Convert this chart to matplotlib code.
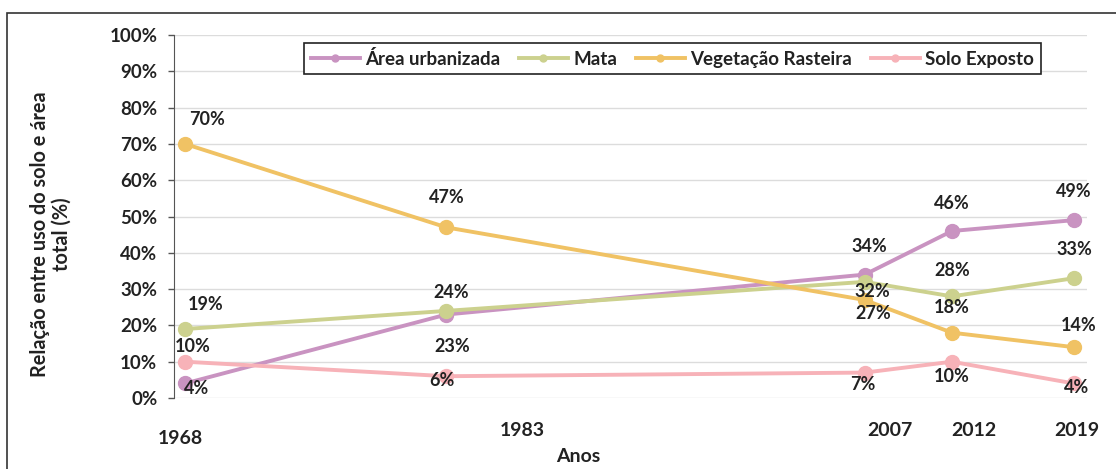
import matplotlib
matplotlib.use("Agg")
import matplotlib.pyplot as plt
from matplotlib.patches import Rectangle

plt.rcParams['font.family'] = ['Lato', 'DejaVu Sans']
plt.rcParams['font.weight'] = 'bold'

anos = [1968, 1983, 2007, 2012, 2019]
area_urbanizada = [4, 23, 34, 46, 49]
mata = [19, 24, 32, 28, 33]
vegetacao_rasteira = [70, 47, 27, 18, 14]
solo_exposto = [10, 6, 7, 10, 4]
yticks = [0, 10, 20, 30, 40, 50, 60, 70, 80, 90, 100]

# deslocamento dos rótulos (pixels) em relação a cada ponto
off_urb = [(12, -5), (6, -32), (5, 28), (0, 28), (0, 29)]
off_mata = [(21, 25), (5, 18), (8, -10), (0, 26), (0, 29)]
off_veg = [(22, 24), (0, 30), (8, -14), (0, 25), (5, 22)]
off_solo = [(8, 15), (-4, -4), (-2, -12), (0, -15), (3, -4)]
off_anos = [(-5, -40), (76, -33), (25, -33), (22, -33), (3, -33)]

series = [
    ('Área urbanizada', area_urbanizada, '#C993C1', off_urb),
    ('Mata', mata, '#CCD18E', off_mata),
    ('Vegetação Rasteira', vegetacao_rasteira, '#F0C264', off_veg),
    ('Solo Exposto', solo_exposto, '#F7B2B8', off_solo),
]

txt = '#222222'
fs = 13

fig = plt.figure(figsize=(11.16, 4.69), dpi=100)
ax = fig.add_axes([174/1116, 1-398/469, 913/1116, 363/469])

# moldura externa
fig.patches.append(Rectangle((7/1116, -0.1), 1.2, 1.1-13/469, transform=fig.transFigure,
                             fill=False, edgecolor='#333333', lw=1.2))

for nome, vals, cor, offs in series:
    ax.plot(anos, vals, color=cor, lw=2.8, marker='o', ms=10, label=nome, zorder=3)
    for x, v, (dx, dy) in zip(anos, vals, offs):
        ax.annotate(f'{v}%', (x, v), xytext=(dx, dy), textcoords='offset pixels',
                    ha='center', va='center', fontsize=fs, color=txt, fontweight='bold', zorder=5)

ax.set_xlim(1967.37, 2019.75)
ax.set_ylim(0, 100)
ax.set_yticks(yticks)
ax.set_yticklabels([f'{t}%' for t in yticks])
ax.grid(axis='y', color='#DCDCDC', lw=1)
ax.set_axisbelow(True)
ax.set_xticks([])
for s in ['top', 'right', 'bottom']:
    ax.spines[s].set_visible(False)
ax.spines['left'].set_color('#555555')
ax.tick_params(axis='y', length=4, width=1, color='#555555', pad=8, labelsize=13.5, labelcolor=txt)

for x, (dx, dy) in zip(anos, off_anos):
    ax.annotate(str(x), (x, 0), xycoords=ax.get_xaxis_transform(), xytext=(dx, dy),
                textcoords='offset pixels', ha='center', va='center', fontsize=14,
                color=txt, fontweight='bold')

ax.text(0.4425, -0.1625, 'Anos', transform=ax.transAxes, ha='center', va='center',
        fontsize=14, color=txt, fontweight='bold')
ax.set_ylabel('Relação entre uso do solo e área\ntotal (%)', fontsize=14.3, color=txt,
              fontweight='bold', ha='center', multialignment='center', linespacing=1.1)
ax.yaxis.set_label_coords(-0.112, 0.45)

leg = ax.legend(loc='center', bbox_to_anchor=(0.546, 0.935), ncol=4, fontsize=13.5,
                frameon=True, fancybox=False, edgecolor='#222222', framealpha=1,
                handlelength=2.6, columnspacing=1.0, handletextpad=0.3,
                borderpad=0.35)
leg.get_frame().set_linewidth(1.2)
for h in leg.legend_handles:
    h.set_markersize(5)
for t in leg.get_texts():
    t.set_color(txt)

fig.savefig('out.png', dpi=100)
